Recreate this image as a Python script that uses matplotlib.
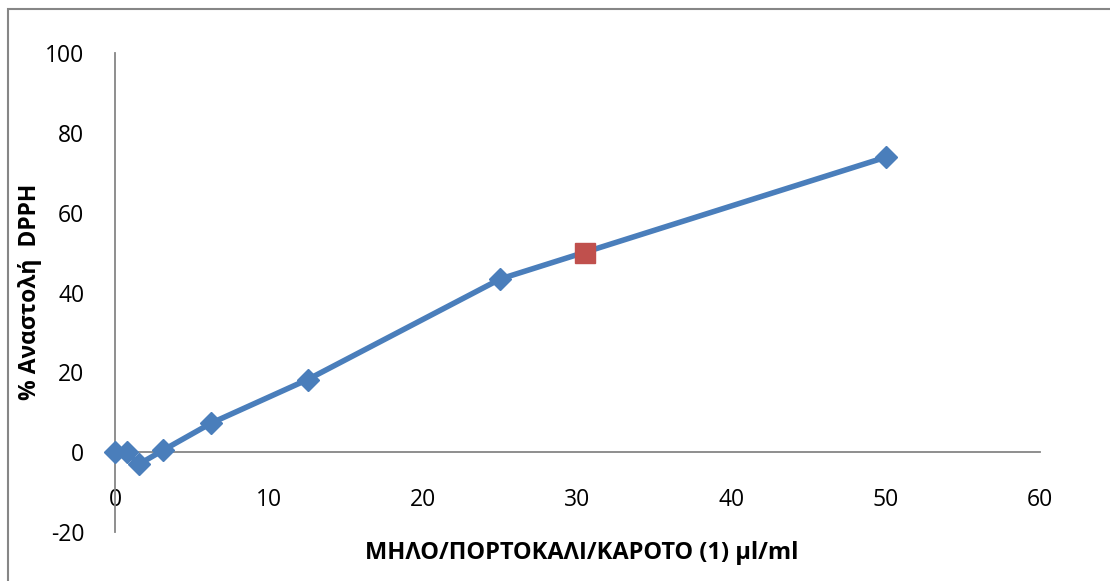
import matplotlib.pyplot as plt
from matplotlib.patches import Rectangle

# concentration (ul/ml) vs % DPPH inhibition
conc = [0, 0.78, 1.56, 3.125, 6.25, 12.5, 25, 50]
inhib = [0, 0, -3, 0.5, 7.3, 18.2, 43.4, 73.9]
ic50_x = [30.5]
ic50_y = [50]

xticks = [0, 10, 20, 30, 40, 50, 60]
yticks = [-20, 0, 20, 40, 60, 80, 100]

plt.rcParams['font.family'] = ['Open Sans', 'DejaVu Sans']
plt.rcParams['axes.unicode_minus'] = False

fig = plt.figure(figsize=(11.1, 5.81), dpi=100)
ax = fig.add_axes([115/1110, 1 - 532/581, 925/1110, 479/581])

# outer chart frame
fig.patches.append(Rectangle((8/1110, -0.05), 1.1, 1 - 9/581 + 0.05,
                             transform=fig.transFigure, fill=False,
                             edgecolor='#868686', linewidth=1.5, clip_on=False))

ax.plot(conc, inhib, color='#4a7ebb', linewidth=4, marker='D',
        markersize=11, markerfacecolor='#4a7ebb', markeredgecolor='#4a7ebb',
        zorder=3, clip_on=False)
ax.plot(ic50_x, ic50_y, linestyle='none', marker='s', markersize=14,
        color='#c0504d', zorder=4)

ax.set_xlim(0, 60)
ax.set_ylim(-20, 100)
ax.set_xticks(xticks)
ax.set_yticks(yticks)

for s in ['top', 'right']:
    ax.spines[s].set_visible(False)
ax.spines['bottom'].set_position(('data', 0))
ax.spines['left'].set_position(('data', 0))
ax.spines['bottom'].set_color('#868686')
ax.spines['left'].set_color('#868686')
ax.spines['bottom'].set_linewidth(1.3)
ax.spines['left'].set_linewidth(1.3)
ax.spines['bottom'].set_zorder(1)
ax.tick_params(axis='both', length=0, labelsize=16.5)
ax.tick_params(axis='x', pad=26)
ax.tick_params(axis='y', pad=22)

fig.text(582/1110, 1 - 553/581, 'ΜΗΛΟ/ΠΟΡΤΟΚΑΛΙ/ΚΑΡΟΤΟ (1) μl/ml',
         ha='center', va='center', fontsize=17, fontweight='bold')
fig.text(30/1110, 1 - 292/581, '% Αναστολή  DPPH', rotation=90,
         ha='center', va='center', fontsize=16.5, fontweight='bold')

fig.savefig('out.png', dpi=100)
